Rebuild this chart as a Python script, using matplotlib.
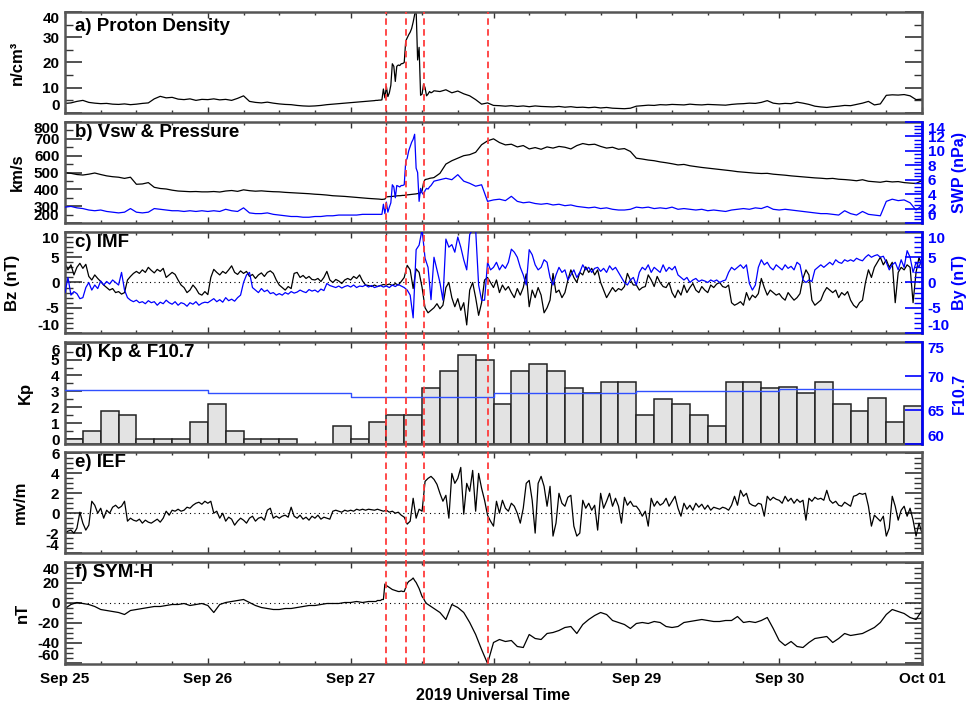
import numpy as np
import pandas as pd
import matplotlib
matplotlib.use("Agg")
import matplotlib.pyplot as plt
import matplotlib.dates as mdates
from matplotlib.ticker import MultipleLocator, NullLocator

plt.rcParams["font.family"] = ["Liberation Sans", "DejaVu Sans"]
plt.rcParams["font.weight"] = "bold"
plt.rcParams["axes.unicode_minus"] = False

start = pd.Timestamp("2019-09-25")
end = pd.Timestamp("2019-10-01")

# hourly samples, 15-min samples through the storm onset (Sep 27 04-14 UT)
hours = np.concatenate([np.arange(0, 52), np.arange(52, 62, 0.25), np.arange(62, 145)])
# 30-min samples for the IMF and electric field
hours_30 = np.arange(0, 144.5, 0.5)

density = [
    3.8, 4.0, 4.6, 5.0, 4.2, 3.9, 3.7, 3.8, 3.5, 3.4, 3.6, 3.3, 3.5, 3.8, 4.0, 5.6, 6.6, 6.0, 6.2, 5.5, 5.3, 5.6, 5.0, 5.4,
    5.3, 5.6, 5.2, 5.4, 5.0, 5.8, 6.8, 4.6, 4.2, 4.0, 4.3, 3.9, 3.6, 3.4, 3.3, 3.0, 2.8, 2.7, 2.8, 3.0, 3.3, 3.5, 3.7, 3.9,
    4.1, 4.3, 4.5, 4.7,
    4.9, 5.0, 5.0, 5.1, 5.1, 5.2, 9.5, 6.0, 10.5, 6.5, 8.0, 11.0, 19.5, 18.5, 12.5, 18.5, 19.0, 18.8, 19.5, 19.6,
    20.0, 28.5, 29.8, 31.0, 32.0, 33.5, 36.0, 39.0, 41.0, 21.0, 26.0, 7.0, 7.5, 11.5, 10.0, 6.8, 7.5, 8.5, 8.0, 8.3,
    8.8, 8.5, 9.2, 8.0, 8.7, 7.6, 6.8, 5.3, 3.5, 4.0,
    3.0, 2.9, 2.7, 2.9, 2.6, 2.8, 2.5, 2.8, 2.6, 2.5, 2.4, 2.6, 2.3, 2.5, 2.2, 2.3, 2.1, 2.3, 2.0, 2.2, 1.9, 1.8, 1.7, 1.9,
    2.7, 2.9, 3.1, 3.0, 3.3, 3.2, 3.4, 3.3, 3.2, 3.5, 3.3, 3.2, 3.4, 3.3, 3.2, 3.1, 3.4, 3.6, 3.7, 3.9, 3.8, 4.2, 4.9, 3.9,
    3.6, 3.8, 3.7, 4.3, 3.9, 3.4, 2.7, 2.4, 2.2, 2.5, 2.7, 3.0, 2.9, 3.4, 3.9, 4.6, 3.2, 3.6, 7.0, 7.2, 7.1, 7.3, 6.8, 5.3,
    5.5,
]

vsw = [
    499, 495, 488, 485, 490, 497, 488, 480, 475, 472, 465, 472, 430, 432, 440, 412, 405, 402, 395, 390, 388, 386, 387, 385,
    385, 387, 384, 390, 393, 388, 397, 392, 389, 391, 388, 386, 385, 382, 380, 378, 376, 374, 371, 369, 366, 362, 360, 358,
    355, 352, 349, 346,
    344, 344, 343, 342, 341, 340, 341, 342, 355, 356, 357, 357, 358, 359, 360, 361, 362, 362, 363, 364,
    364, 366, 367, 368, 369, 370, 371, 372, 373, 375, 376, 380, 392, 440, 458, 460, 462, 465, 467, 468,
    470, 495, 550, 570, 585, 600, 606, 620, 665, 688,
    700, 678, 664, 668, 652, 660, 640, 648, 638, 652, 645, 655, 650, 640, 660, 672, 665, 668, 655, 645, 650, 638, 642, 625,
    585, 580, 574, 570, 563, 558, 552, 545, 548, 540, 535, 530, 526, 522, 518, 514, 510, 505, 502, 499, 496, 494, 495, 490,
    487, 484, 480, 477, 474, 471, 468, 466, 463, 465, 460, 458, 455, 451, 457, 448, 445, 442, 448, 444, 446, 440, 437, 435,
    452,
]

swp = [
    2.2, 2.3, 2.1, 2.0, 1.8, 1.7, 1.8, 1.6, 1.5, 1.4, 1.5, 2.0, 1.5, 1.4, 1.5, 2.0, 1.9, 1.8, 1.7, 1.7, 1.6, 1.7, 1.6, 1.7,
    1.6, 1.7, 1.6, 1.9, 1.7, 1.6, 2.1, 1.4, 1.3, 1.3, 1.4, 1.2, 1.1, 1.0, 0.9, 0.9, 0.8, 0.8, 0.9, 0.9, 1.0, 1.0, 1.1, 1.1,
    1.1, 1.1, 1.2, 1.2,
    1.2, 1.2, 1.2, 1.2, 1.2, 1.2, 2.6, 1.3, 2.9, 1.5, 2.2, 2.8, 5.3, 5.0, 3.5, 5.2, 5.1, 5.0, 5.2, 5.2,
    5.3, 8.5, 9.0, 10.0, 10.6, 11.2, 11.6, 12.3, 7.6, 7.0, 3.0, 4.8, 4.2, 3.9, 4.5, 4.8, 4.7, 5.0, 5.2, 5.5,
    5.8, 6.0, 6.2, 6.0, 6.7, 5.8, 5.5, 5.1, 5.3, 3.0,
    3.2, 3.3, 3.1, 3.7, 3.0, 2.8, 2.9, 2.7, 2.6, 2.7, 2.5, 2.6, 2.4, 2.5, 2.3, 2.2, 2.1, 2.2, 2.0, 2.1, 1.9, 1.8, 1.8, 1.9,
    2.2, 2.1, 2.2, 2.0, 2.1, 2.0, 2.2, 1.9, 2.0, 1.9, 1.8, 1.9, 1.7, 1.8, 1.7, 1.6, 1.8, 1.9, 2.0, 1.9, 2.1, 2.0, 2.3, 1.9,
    1.8, 1.9, 1.8, 1.7, 1.6, 1.5, 1.4, 1.3, 1.3, 1.2, 1.1, 1.7, 1.3, 1.1, 1.6, 1.2, 1.1, 1.0, 3.0, 3.3, 3.1, 3.2, 2.8, 1.8,
    2.4,
]

symh = [
    -6, -2, 0, -1, -2, -4, -7, -8, -9, -10, -12, -8, -7, -6, -5, -4, -4, -3, -2, -2, -1, -3, -2, -1,
    -3, -10, -2, 0, 1, 2, 3, 0, -3, -5, -6, -7, -7, -6, -6, -5, -4, -3, -3, -2, -1, -1, -1, 0,
    0, 1, 0, 1,
    1, 1, 2, 2, 2, 3, 3, 18.5, 17, 16, 15, 14, 13, 12.5, 12, 11.5, 11, 11, 11.5, 11,
    11, 15, 19, 21, 22, 23, 24.5, 22, 20, 17, 14, 10, 6, 4, 1, -1, -2, -3, -4, -5,
    -6, -10, -17, -2, -5, -10, -20, -32, -47, -61,
    -40, -37, -39, -38, -44, -45, -32, -36, -37, -31, -30, -28, -25, -24, -31, -22, -17, -13, -10, -12, -18, -20, -22, -26,
    -21, -20, -21, -19, -20, -24, -25, -24, -20, -19, -18, -17, -18, -19, -19, -18, -18, -14, -20, -19, -20, -18, -15, -26,
    -38, -43, -39, -44, -45, -40, -36, -35, -34, -40, -36, -31, -33, -32, -31, -28, -25, -20, -12, -7, -9, -11, -15, -17,
    -8,
]

bz = [
    3.8, 2.5, 3.5, 1.5, 3.0, 3.8, 2.8, 3.6, 1.2, 0.5, 1.5, 0.8,
    0.2, -0.5, -1.0, -1.5, -1.2, -2.0, -1.8, -2.3, -2.0, 0.5, 1.2, 1.8,
    2.2, 1.8, 2.5, 2.0, 3.0, 2.4, 1.9, 2.6, 2.2, 2.8, 1.0, 1.5,
    2.0, 1.6, 0.5, -0.5, -1.0, -2.0, -1.5, -0.5, -1.2, -2.2, -2.5, -1.8,
    -2.4, 1.0, 2.6, 2.0, 1.5, 2.2, 1.8, 2.5, 3.3, 2.0, 1.6, 2.3,
    1.8, 2.2, 1.2, 1.6, 0.8, 1.5, 1.9, 1.2, 2.0, 2.3, 1.8, 0.5,
    -0.5, -1.0, -1.5, -0.8, -1.2, 1.8, 2.0, 1.0, 1.4, 0.8, 1.2, 0.6,
    0.5, 0.8, 0.2, 1.0, 2.2, 0.5, 0.0, 0.6, 0.3, -0.2, 0.5, 0.8,
    0.5, 1.2, 0.8, 1.5, 0.3, -0.5, -0.6, -0.8, -0.5, -0.8, -0.6, -0.4,
    -0.5, -0.3, -0.6, -0.2, -0.5, 0.2, 1.0, 3.4, 2.5, -1.2, 2.7, 2.0,
    -1.0, -5.0, -6.0, -5.5, -5.0, -4.2, -5.2, -4.5, -1.0, 0.0, -3.0, -4.8,
    -3.2, -5.5, -4.0, -8.4, -1.5, 0.0, -3.0, -6.5, -4.0, 0.5, 1.0, 0.0,
    -1.0, 0.5, -2.0, -0.5, -1.5, -0.8, -2.0, -3.0, -1.2, -2.5, -1.0, 1.7,
    -4.8, -1.5, -3.0, -1.0, -2.5, -6.0, -5.0, -3.5, 1.8, -2.0, -1.5, -3.0,
    -2.0, 0.5, 2.5, 1.0, 0.0, 2.0, 1.5, 3.1, 2.0, 2.8, 1.5, 2.5,
    0.0, -1.5, -3.0, -2.0, -1.0, -1.8, -1.2, -1.5, -0.8, 1.8, 0.5, -0.5,
    -0.5, -1.5, -1.0, -0.8, 1.5, 0.5, -0.8, 1.2, 0.0, -0.8, -1.0, 0.0,
    -2.0, -3.0, -1.5, -2.5, -0.5, -2.0, -1.0, -0.2, -1.5, -2.0, -0.8, -1.5,
    -2.0, -0.5, -1.0, -0.3, 0.0, -0.8, -1.0, -0.5, -4.0, -4.5, -4.2, -3.8,
    -4.5, -2.0, -3.5, -2.5, -3.0, -2.2, 0.8, -1.0, -2.5, -1.5, -2.0, -2.5,
    -2.2, -3.0, -3.5, -2.0, -2.8, -3.5, -3.0, -2.2, 0.8, 2.5, 1.5, -3.5,
    -4.5, -4.0, -3.5, -2.0, -1.0, -1.5, -2.0, -1.5, -3.0, -2.0, -2.5, -1.8,
    -3.5, -4.5, -5.0, -4.0, -3.5, 0.0, 2.5, 1.0, 3.0, 4.0, 5.0, 3.5,
    4.5, 3.0, 4.0, -4.0, 2.0, 3.0, 2.5, 3.5, 3.0, -4.0, 2.0, 5.0,
    3.0,
]

by = [
    -2.0, 1.0, -2.5, -1.8, -2.2, -3.2, -3.0, -1.0, 0.0, -1.5, -0.5, -1.2,
    0.3, -0.5, 0.2, -0.3, 0.5, 0.0, -0.5, 2.0, -1.5, -3.0, -3.5, -3.8,
    -3.5, -4.0, -3.8, -4.2, -3.6, -4.0, -3.8, -4.5, -3.9, -4.2, -3.5, -4.0,
    -4.3, -3.8, -4.5, -4.0, -4.2, -4.7, -4.0, -4.3, -3.8, -4.5, -4.1, -3.9,
    -4.0, -3.6, -3.2, -3.8, -3.4, -3.9, -3.0, -3.6, -3.3, -3.7, -3.0, -2.5,
    0.0, 1.5, 2.0, -1.0, -1.5, -2.0, -1.2, -1.8, -1.5, -2.2, -2.0, -2.5,
    -2.2, -2.5, -2.0, -2.3, -1.8, -2.1, -1.9, -1.5, -1.8, -2.0, -1.4, -1.7,
    -1.5, -1.9, -1.3, -1.6, -0.2, -0.6, -0.8, -1.0, -0.7, -1.1, -0.8, -0.6,
    -0.9, -0.5, -1.0, -0.7, -0.8, -0.5, -0.9, -0.6, -1.0, -0.8, -0.6, -0.9,
    -0.7, -1.0, -0.5, -0.8, -0.4, -0.7, -1.0, -1.5, -2.5, -7.0, 6.5, 7.4,
    10.5, 4.8, 3.0, -3.4, 5.0, 2.5, 0.0, -3.5, 8.6, 7.0, 7.5, 6.0,
    9.0, 7.0, 4.5, 2.5, 9.5, 10.5, 10.5, -0.5, -3.5, -3.5, 4.0, 2.5,
    3.0, 4.0, 2.5, 3.5, 2.8, 4.0, 6.6, 6.0, 5.0, 3.0, 1.5, -0.5,
    6.5, 5.5, 3.5, 2.5, 3.0, 4.5, 4.0, 1.0, -0.5, 1.5, 3.0, 2.0,
    2.5, 0.5, 1.5, 2.5, 1.0, 2.0, 3.5, 2.5, 3.0, 2.0, 2.8, 3.0,
    2.2, 2.8, 2.0, 3.3, 2.5, 3.0, 2.0, 1.0, 0.0, -0.5, 0.5, 1.0,
    -0.5, 2.0, 3.0, 2.5, 3.5, 2.0, 3.0, 2.5, 2.0, 3.5, 2.2, 3.0,
    2.5, 3.2, 1.5, 1.0, 0.5, 1.0, 0.0, 0.5, 0.8, 0.2, 0.5, 0.3,
    0.0, 0.5, 0.2, 0.5, 0.0, 0.3, 0.5, 2.0, 3.0, 2.5, 3.0, 3.5,
    2.8, 3.5, -0.2, -1.5, -0.5, 3.0, 4.5, 3.5, 4.0, 3.0, 2.5, 3.5,
    3.0, 2.5, 3.5, 2.8, 3.2, 2.5, 4.0, 3.5, 0.5, 0.0, 0.5, 0.2,
    2.5, 3.0, 3.5, 3.0, 3.5, 4.0, 3.5, 4.5, 4.0, 3.8, 4.5, 4.2,
    4.5, 4.2, 4.8, 4.5, 4.3, 5.0, 5.5, 5.0, 5.3, 5.5, 5.0, 5.2,
    4.0, 2.5, 3.5, 4.0, 2.5, 4.5, 3.0, 6.3, 5.0, 2.0, 4.0, 3.0,
    5.0,
]

ief = [
    -2.0, -1.8, -1.7, -2.0, -1.5, 0.1, -1.0, -1.7, -1.2, 1.2, 0.8, 0.0,
    0.5, -0.5, 0.3, 0.0, 0.6, 0.8, 0.5, 0.7, 1.2, -0.8, -0.5, -0.7,
    -0.8, -0.6, -1.0, -0.7, -0.9, -1.0, -0.8, -0.6, -0.9, -0.5, 0.2, -0.2,
    0.3, 0.2, 0.4, 0.2, 0.3, 0.6, 0.5, 0.8, 1.0, 1.1, 0.9, 1.2,
    1.0, 1.2, 0.0, 0.2, -0.5, 0.0, -0.8, -0.4, -0.6, -1.2, -0.8, -0.5,
    -0.7, -1.0, -0.5, -0.3, -0.8, -0.5, -0.4, -0.7, 0.3, 0.5, -0.5, -0.3,
    -0.5, -0.3, -0.2, -0.4, 0.6, -0.3, -0.5, -0.2, -0.6, -0.4, -0.7, -0.3,
    -0.5, -0.2, -0.6, -0.4, -0.5, -0.6, 0.2, 0.3, 0.2, 0.1, 0.3, 0.2,
    0.3, 0.2, 0.4, 0.3, 0.4, 0.3, 0.4, 0.35, 0.3, 0.4, 0.3, 0.2,
    0.3, 0.1, 0.2, 0.0, 0.1, -0.2, -0.4, -1.1, -0.8, 1.5, -0.5, 0.4,
    0.2, 3.2, 3.5, 3.7, 3.4, 2.9, 2.0, 1.2, 1.8, -0.5, 4.0, 3.0,
    3.5, 4.6, -0.1, 3.0, 2.2, 4.3, 0.2, 4.0, 2.5, 1.3, -0.2, -0.8,
    -1.3, 1.2, 0.0, 1.3, 0.5, 0.2, 1.0, 0.7, 0.0, -1.0, 0.5, 3.0,
    3.3, 1.3, -2.0, 3.0, 3.7, 2.7, 0.7, 2.7, -2.3, -1.0, 2.0, 1.0,
    0.7, 1.6, 1.8, -1.3, -2.3, -2.0, 1.3, 0.5, 1.0, 0.3, 0.8, -1.7,
    2.0, 0.5, 1.2, 2.0, 0.7, 1.5, 0.7, -1.0, 1.6, 0.8, 1.2, 0.7,
    0.7, 0.3, -0.3, 0.2, -1.3, 1.5, 0.7, 1.2, 0.8, 1.0, 1.5, 0.7,
    1.2, 1.7, 0.5, -0.3, 1.0, 0.4, 0.8, 0.3, 1.0, 0.6, 0.9, 0.4,
    0.8, 0.3, 0.6, 0.5, 0.4, 0.6, 0.5, 0.3, 0.8, 1.7, 0.8, 2.3,
    1.7, 2.0, 1.0, 0.8, 0.7, 1.0, 0.9, -0.3, 1.7, 1.3, 1.6, 1.4,
    1.3, 1.0, 1.7, 1.2, 1.5, 1.0, 1.4, 1.1, 1.3, -0.7, 1.5, 1.2,
    1.6, 1.4, 1.5, 1.3, 2.3, 1.3, 1.0, 1.2, 0.8, 0.7, 1.1, 0.9,
    0.7, 1.7, 1.8, 2.0, 1.9, 2.0, 0.7, -1.3, -0.2, -0.5, -0.8, -0.3,
    -2.3, -1.5, 1.7, 0.7, -0.7, 0.3, 0.7, -0.3, 0.5, -0.7, -2.3, -1.0,
    -2.0,
]

# 3-hourly Kp (nan = no bar) and daily F10.7
kp = [
    0.0, 0.5, 1.8, 1.5, 0.0, 0.0, 0.0, 1.1,
    2.2, 0.5, 0.0, 0.0, 0.0, np.nan, np.nan, 0.8,
    0.0, 1.1, 1.5, 1.5, 3.2, 4.3, 5.3, 5.0,
    2.2, 4.3, 4.7, 4.3, 3.2, 2.9, 3.6, 3.6,
    1.5, 2.5, 2.2, 1.5, 0.8, 3.6, 3.6, 3.2,
    3.3, 2.9, 3.6, 2.2, 1.8, 2.6, 1.1, 2.1,
]
f107 = [67.9, 67.5, 66.9, 67.5, 67.8, 68.1]

event_times = ["2019-09-27 05:55", "2019-09-27 09:15", "2019-09-27 12:20", "2019-09-27 23:05"]

t_main = start + pd.to_timedelta(hours, unit="h")
t_30 = start + pd.to_timedelta(hours_30, unit="h")
for arr in (density, vsw, swp, symh):
    assert len(arr) == len(t_main)
for arr in (bz, by, ief):
    assert len(arr) == len(t_30)

BLUE = "#0000ff"
FRAME = "#555555"
fig = plt.figure(figsize=(9.67, 7.06), dpi=100)

W, H = 967.0, 706.0
x0, x1 = 65, 922
rows = [(12, 113), (122, 223), (232, 333), (342, 444), (452, 553), (562, 664)]
axes = [fig.add_axes([x0 / W, 1 - b / H, (x1 - x0) / W, (b - t) / H]) for t, b in rows]
# how close (fraction of the range) a tick must be to a limit for its label to be pulled inside
edge_tol = {}


def style(ax, major, minor, right=True, tol=0.005):
    for s in ax.spines.values():
        s.set_linewidth(1.8)
        s.set_color(FRAME)
    ax.set_xlim(start, end)
    ax.xaxis.set_major_locator(mdates.DayLocator())
    ax.xaxis.set_minor_locator(mdates.HourLocator(byhour=[6, 12, 18]))
    ax.xaxis.set_major_formatter(mdates.DateFormatter("%b %d"))
    ax.yaxis.set_major_locator(MultipleLocator(major))
    if minor:
        ax.yaxis.set_minor_locator(MultipleLocator(minor))
    ax.tick_params(axis="y", which="major", direction="in", length=12, width=1.2,
                   color="#333333", labelsize=11, pad=4, right=right)
    ax.tick_params(axis="y", which="minor", direction="in", length=6, width=1.0,
                   color="#333333", right=right)
    ax.tick_params(axis="x", which="major", direction="in", length=4, width=1.0,
                   color="#333333", top=True, labelsize=11, pad=6)
    ax.tick_params(axis="x", which="minor", direction="in", length=2.5, width=1.0,
                   color="#333333", top=True)
    edge_tol[ax] = tol


def style_right(tw, major, minor, label):
    for name, s in tw.spines.items():
        s.set_visible(name == "right")
    tw.spines["right"].set_color(BLUE)
    tw.spines["right"].set_linewidth(1.8)
    tw.yaxis.set_major_locator(MultipleLocator(major))
    if minor:
        tw.yaxis.set_minor_locator(MultipleLocator(minor))
    else:
        tw.yaxis.set_minor_locator(NullLocator())
    tw.tick_params(axis="y", which="major", direction="in", length=12, width=1.2,
                   color=BLUE, labelcolor=BLUE, labelsize=11, pad=4)
    tw.tick_params(axis="y", which="minor", direction="in", length=6, width=1.0, color=BLUE)
    tw.set_ylabel(label, color=BLUE, fontsize=11.5, fontweight="bold", rotation=90)
    tw.yaxis.set_label_coords(1.035, 0.5)
    edge_tol[tw] = 0.005


def title(ax, text, y=0.895):
    ax.text(0.012, y, text, transform=ax.transAxes, fontsize=13.5, fontweight="bold",
            va="center", ha="left", zorder=10)


def left_label(ax, text, xpos):
    ax.set_ylabel(text, fontsize=12, fontweight="bold")
    ax.yaxis.set_label_coords(xpos, 0.5)


zero_style = dict(color="k", lw=0.8, ls=(0, (1, 3)), zorder=1)

# a) proton density
ax = axes[0]
ax.plot(t_main, density, color="k", lw=0.9)
ax.set_ylim(0, 40)
style(ax, 10, 5)
title(ax, "a) Proton Density", 0.86)
left_label(ax, "n/cm³", -0.047)

# b) solar wind speed and dynamic pressure
ax = axes[1]
ax.plot(t_main, vsw, color="k", lw=0.9)
ax.set_ylim(200, 800)
style(ax, 100, 50, right=False)
title(ax, "b) Vsw & Pressure")
left_label(ax, "km/s", -0.047)
tw = ax.twinx()
tw.plot(t_main, swp, color=BLUE, lw=0.9)
tw.set_ylim(0, 14)
tw.set_xlim(start, end)
style_right(tw, 2, 0.5, "SWP (nPa)")

# c) IMF Bz and By
ax = axes[2]
ax.axhline(0, **zero_style)
ax.plot(t_30, bz, color="k", lw=0.9)
ax.set_ylim(-10, 10)
style(ax, 5, 1, right=False)
title(ax, "c) IMF")
left_label(ax, "Bz (nT)", -0.0525)
tw = ax.twinx()
tw.plot(t_30, by, color=BLUE, lw=0.9)
tw.set_ylim(-10, 10)
tw.set_xlim(start, end)
style_right(tw, 5, 1, "By (nT)")

# d) Kp bars and F10.7
ax = axes[3]
kp_base = -0.3
kp_t = start + pd.to_timedelta(np.arange(len(kp)) * 3, unit="h")
kp_arr = np.array(kp, dtype=float)
ok = ~np.isnan(kp_arr)
ax.bar(kp_t[ok], kp_arr[ok] - kp_base, bottom=kp_base, width=pd.Timedelta(hours=3),
       align="edge", color="#e3e3e3", edgecolor="#222222", linewidth=1.1, zorder=2)
ax.set_ylim(kp_base, 6.1)
style(ax, 1, 0.5, right=False, tol=0.02)
title(ax, "d) Kp & F10.7")
left_label(ax, "Kp", -0.037)
tw = ax.twinx()
f_t = start + pd.to_timedelta(np.arange(len(f107) + 1), unit="D")
tw.step(f_t, f107 + [f107[-1]], where="post", color="#3050ff", lw=1.0)
tw.set_ylim(60, 75)
tw.set_xlim(start, end)
style_right(tw, 5, None, "F10.7")

# e) interplanetary electric field
ax = axes[4]
ax.axhline(0, **zero_style)
ax.plot(t_30, ief, color="k", lw=0.9)
ax.set_ylim(-4, 6.15)
style(ax, 2, 0.5)
title(ax, "e) IEF")
left_label(ax, "mv/m", -0.043)

# f) SYM-H
ax = axes[5]
ax.axhline(0, **zero_style)
ax.plot(t_main, symh, color="k", lw=0.9)
ax.set_ylim(-61.5, 40.5)
style(ax, 20, 5, tol=0.02)
title(ax, "f) SYM-H")
left_label(ax, "nT", -0.041)

for a in axes[:-1]:
    a.tick_params(axis="x", labelbottom=False)

# event markers through all panels
over = fig.add_axes([x0 / W, 1 - 664 / H, (x1 - x0) / W, (664 - 12) / H], zorder=20)
over.set_xlim(start, end)
over.set_ylim(0, 1)
over.axis("off")
for ev in event_times:
    over.axvline(pd.Timestamp(ev), color="#ff3b3b", lw=1.3, ls=(0, (3.6, 2.4)))

fig.text(493.5 / W, 1 - 695 / H, "2019 Universal Time", ha="center", va="center",
         fontsize=11.5, fontweight="bold")

# keep the end labels of each y axis inside the panel
fig.canvas.draw()
for a, tol in edge_tol.items():
    lo, hi = a.get_ylim()
    span = hi - lo
    for tk in a.yaxis.get_major_ticks():
        for lab in (tk.label1, tk.label2):
            lab.set_fontweight("bold")
        loc = tk.get_loc()
        if abs(loc - hi) <= tol * span:
            tk.label1.set_va("top")
            tk.label2.set_va("top")
        elif abs(loc - lo) <= tol * span:
            tk.label1.set_va("bottom")
            tk.label2.set_va("bottom")
for a in axes:
    for lab in a.get_xticklabels():
        lab.set_fontweight("bold")

fig.savefig("out.png", dpi=100)
